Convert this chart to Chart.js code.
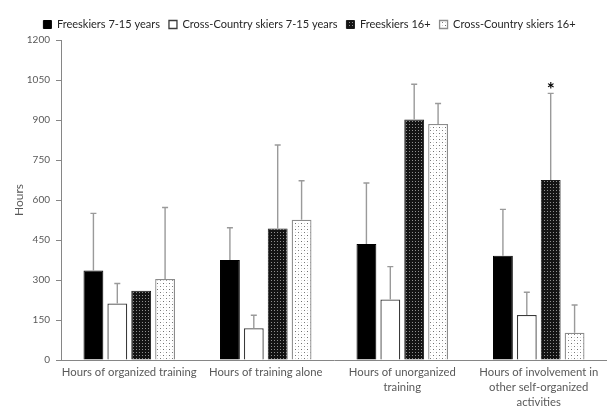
<!DOCTYPE html>
<html>
<head>
<meta charset="utf-8">
<script src="https://cdn.jsdelivr.net/npm/chart.js@4.4.1/dist/chart.umd.min.js"></script>
<style>
  html, body { margin: 0; padding: 0; background: #ffffff; }
  #wrap { width: 607px; height: 408px; position: relative; }
</style>
</head>
<body>
<div id="wrap"><canvas id="c"></canvas></div>
<script>
// Categories (x axis) and series
const categories = [
  ["Hours of organized training"],
  ["Hours of training alone"],
  ["Hours of unorganized", "training"],
  ["Hours of involvement in", "other self-organized", "activities"]
];
const seriesNames = [
  "Freeskiers 7-15 years",
  "Cross-Country skiers 7-15 years",
  "Freeskiers 16+",
  "Cross-Country skiers 16+"
];
// Means (hours)
const free715 = [336, 375, 435, 391];
const cross715 = [212, 119, 227, 169];
const free16 = [260, 493, 902, 675];
const cross16 = [304, 526, 885, 102];
// Standard deviations (upper whisker only)
const free715Sd = [214, 121, 229, 174];
const cross715Sd = [75, 49, 123, 85];
const free16Sd = [null, 313, 132, 325];
const cross16Sd = [268, 146, 77, 104];
// Significance markers: [datasetIndex, categoryIndex, text]
const markers = [[2, 3, "*"]];
// Y axis ticks
const yTicks = [0, 150, 300, 450, 600, 750, 900, 1050, 1200];

const FONT = "Lato, 'Open Sans', sans-serif";
const TEXT = "#595959";
const AXIS = "#868686";

function makePattern(size, bg, dots) {
  const c = document.createElement("canvas");
  c.width = size; c.height = size;
  const g = c.getContext("2d");
  g.fillStyle = bg; g.fillRect(0, 0, size, size);
  dots.forEach(([x, y, col]) => { g.fillStyle = col; g.fillRect(x, y, 1, 1); });
  return g.createPattern(c, "repeat");
}
const ctx = document.getElementById("c").getContext("2d");
const darkDots = makePattern(3, "#141414", [[1, 1, "#8f8f8f"]]);
const lightDots = makePattern(6, "#ffffff", [[1, 1, "#6e6e6e"], [4, 4, "#7a7a7a"], [4, 1, "#d4d4d4"], [1, 4, "#d4d4d4"]]);

// Upper whiskers with caps, plus significance markers above them
const errorBars = {
  id: "errorBars",
  afterDatasetsDraw(chart, args, opts) {
    const g = chart.ctx;
    const ys = chart.scales.y;
    chart.data.datasets.forEach((ds, di) => {
      const meta = chart.getDatasetMeta(di);
      ds.sd.forEach((sd, i) => {
        if (sd == null) return;
        const bar = meta.data[i];
        const top = ys.getPixelForValue(ds.data[i] + sd);
        g.save();
        g.strokeStyle = opts.color;
        g.lineWidth = opts.width;
        g.beginPath();
        g.moveTo(bar.x, bar.y);
        g.lineTo(bar.x, top);
        g.moveTo(bar.x - opts.cap, top);
        g.lineTo(bar.x + opts.cap, top);
        g.stroke();
        g.restore();
      });
    });
    markers.forEach(([di, i, txt]) => {
      const ds = chart.data.datasets[di];
      const bar = chart.getDatasetMeta(di).data[i];
      const top = ys.getPixelForValue(ds.data[i] + ds.sd[i]);
      g.save();
      g.fillStyle = "#000";
      g.font = "bold 19px " + FONT;
      g.textAlign = "center";
      g.textBaseline = "alphabetic";
      g.fillText(txt, bar.x, top + 3);
      g.restore();
    });
  }
};

// Multi-line category labels centred under each group
const categoryText = {
  id: "categoryText",
  afterDraw(chart, args, opts) {
    const g = chart.ctx;
    const xs = chart.scales.x;
    g.save();
    g.fillStyle = TEXT;
    g.font = opts.size + "px " + FONT;
    g.textAlign = "center";
    g.textBaseline = "middle";
    categories.forEach((lines, i) => {
      const x = xs.getPixelForValue(i);
      lines.forEach((ln, k) => g.fillText(ln, x, xs.top + opts.first + k * opts.lineHeight));
    });
    g.restore();
  }
};

new Chart(ctx, {
  type: "bar",
  data: {
    labels: categories.map(l => l.join(" ")),
    datasets: [
      { label: seriesNames[0], data: free715, sd: free715Sd, backgroundColor: "#000000", borderColor: "#000000", borderWidth: 1 },
      { label: seriesNames[1], data: cross715, sd: cross715Sd, backgroundColor: "#ffffff", borderColor: "#3a3a3a", borderWidth: 1.3 },
      { label: seriesNames[2], data: free16, sd: free16Sd, backgroundColor: darkDots, borderColor: "#1a1a1a", borderWidth: 1 },
      { label: seriesNames[3], data: cross16, sd: cross16Sd, backgroundColor: lightDots, borderColor: "#8c8c8c", borderWidth: 1.3 }
    ]
  },
  options: {
    responsive: true,
    maintainAspectRatio: false,
    animation: false,
    devicePixelRatio: 1,
    layout: { padding: { top: 10, right: 0, left: 12, bottom: 0 } },
    datasets: { bar: { categoryPercentage: 0.7, barPercentage: 0.83, borderSkipped: "bottom" } },
    plugins: {
      legend: {
        position: "top",
        labels: {
          boxWidth: 8, boxHeight: 8, padding: 9,
          color: "#262626",
          font: { family: FONT, size: 11 }
        }
      },
      tooltip: { enabled: false },
      errorBars: { color: "#9a9a9a", width: 1.4, cap: 3 },
      categoryText: { size: 11.3, first: 12, lineHeight: 15 }
    },
    scales: {
      x: {
        offset: true,
        grid: { display: false },
        border: { color: AXIS, width: 1 },
        ticks: { display: false },
        afterFit(s) { s.height = 48; }
      },
      y: {
        min: 0, max: 1200,
        afterBuildTicks(s) { s.ticks = yTicks.map(v => ({ value: v })); },
        grid: { drawOnChartArea: false, drawTicks: true, tickLength: 5, color: AXIS },
        border: { color: AXIS, width: 1 },
        ticks: { color: TEXT, font: { family: FONT, size: 10 }, padding: 6, callback: v => String(v) },
        title: { display: true, text: "Hours", color: TEXT, font: { family: FONT, size: 12 }, padding: { top: 0, bottom: 4 } },
        afterFit(s) { s.width = 49; }
      }
    }
  },
  plugins: [errorBars, categoryText]
});
</script>
</body>
</html>
